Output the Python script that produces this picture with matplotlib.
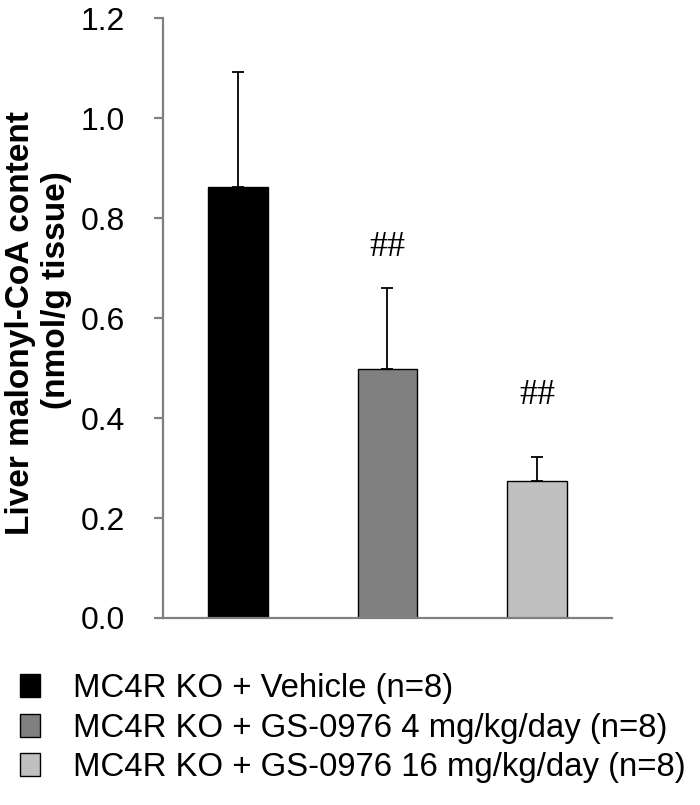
import matplotlib
matplotlib.use("Agg")
from matplotlib import pyplot as plt

groups = ["MC4R KO + Vehicle (n=8)",
          "MC4R KO + GS-0976 4 mg/kg/day (n=8)",
          "MC4R KO + GS-0976 16 mg/kg/day (n=8)"]
means = [0.862, 0.498, 0.275]
errs = [0.230, 0.162, 0.047]
marks = ["", "##", "##"]
mark_y = [0, 0.742, 0.445]
colors = ["#000000", "#808080", "#c0c0c0"]
yticks = [0.0, 0.2, 0.4, 0.6, 0.8, 1.0, 1.2]

plt.rcParams['font.family'] = ['Liberation Sans', 'DejaVu Sans']

fig = plt.figure(figsize=(7, 8.05), dpi=100)
ax = fig.add_axes([0.233, 0.2323, 0.641, 0.7453])

x = range(len(means))
bars = ax.bar(x, means, width=0.4, color=colors, edgecolor="black", linewidth=1,
              zorder=2)
ax.errorbar(x, means, yerr=[[0] * 3, errs], fmt="none", ecolor="black",
            elinewidth=1.3, capsize=4, capthick=1.3, zorder=3)
for i, m in enumerate(marks):
    if m:
        ax.text(i, mark_y[i], m, ha="center", va="center", fontsize=26,
                family=["Liberation Serif"])

ax.set_xlim(-0.5, 2.5)
ax.set_ylim(0, 1.2)
ax.set_yticks(yticks)
ax.set_yticklabels(["%.1f" % v for v in yticks])
ax.set_xticks([])
for s in ["top", "right"]:
    ax.spines[s].set_visible(False)
for s in ["left", "bottom"]:
    ax.spines[s].set_color("#808080")
    ax.spines[s].set_linewidth(1.6)
ax.tick_params(axis="y", colors="#808080", length=6.5, width=1.6,
               labelsize=23, labelcolor="black", pad=21)

fig.text(0.029, 0.599, "Liver malonyl-CoA content", rotation=90, ha="center",
         va="center", fontsize=24, fontweight="bold")
fig.text(0.081, 0.640, "(nmol/g tissue)", rotation=90, ha="center",
         va="center", fontsize=24, fontweight="bold")

fig.legend(bars, groups, loc="upper left", bbox_to_anchor=(0.005, 0.184),
           frameon=False, fontsize=23.7, handlelength=0.6, handleheight=0.7,
           handletextpad=1.0, labelspacing=0.25, borderpad=0)

fig.savefig("out.png", dpi=100)
